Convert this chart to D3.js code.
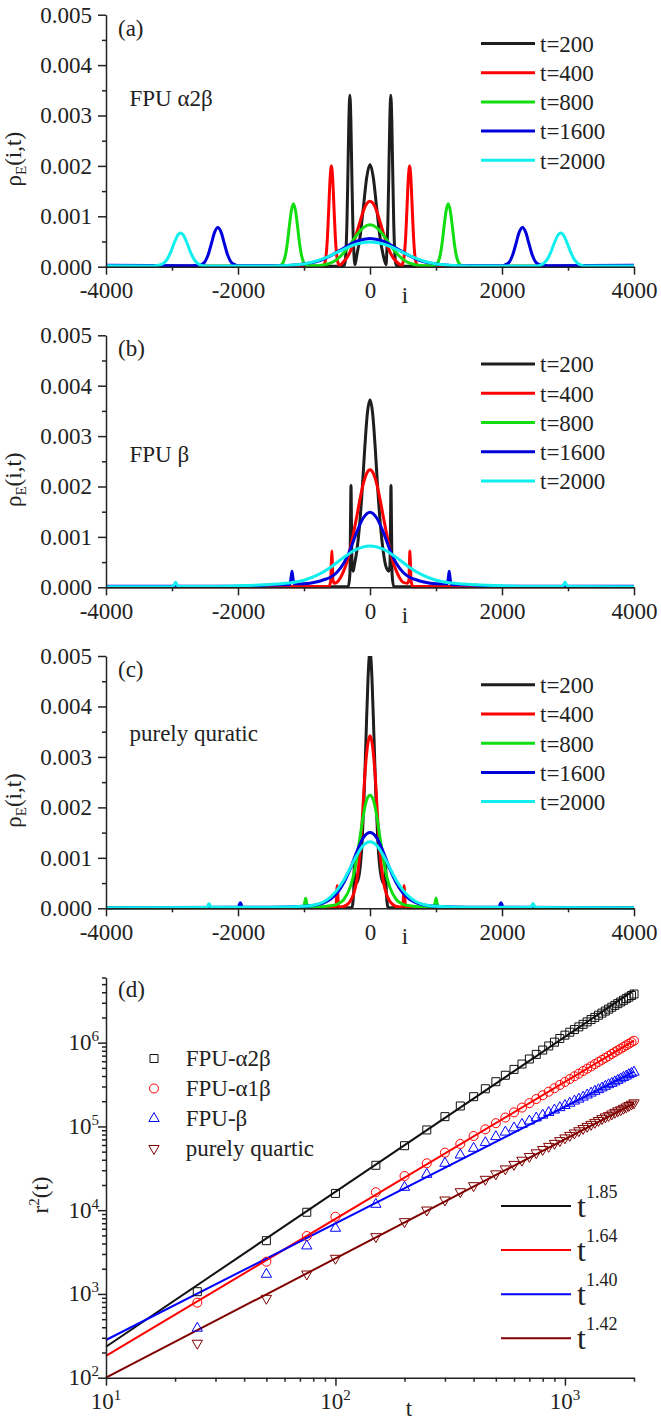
<!DOCTYPE html>
<html>
<head>
<meta charset="utf-8">
<script src="https://cdn.jsdelivr.net/npm/d3@7"></script>
<style>
  body { margin: 0; background: #fff; }
  svg text { font-family: "Liberation Serif", "Times New Roman", serif; fill: #222; }
</style>
</head>
<body>
<svg id="fig" width="661" height="1424"></svg>
<script>
// ---------- data: panels (a)-(c), energy profiles rho_E(i,t), values in units of 1e-3 ----------
const profileTicksX = [-4000, -2000, 0, 2000, 4000];
const profileMinorX = [-3000, -1000, 1000, 3000];
const profileTicksY = [0, 0.001, 0.002, 0.003, 0.004, 0.005];
const profileMinorY = [0.0005, 0.0015, 0.0025, 0.0035, 0.0045];
const timeLabels = ["t=200", "t=400", "t=800", "t=1600", "t=2000"];

// (a) FPU alpha2beta
const profA200 = [[-4000,0.01],[-460,0.01],[-395,0.02],[-380,0.07],[-365,0.29],[-350,0.85],[-335,1.83],[-320,2.91],[-305,3.4],[-290,2.91],[-275,1.83],[-260,0.85],[-245,0.3],[-228,0.04],[-200,0.23],[-150,0.6],[-100,1.18],[-50,1.77],[0,2.03],[50,1.77],[100,1.18],[150,0.6],[200,0.23],[243,0.04],[255,0.3],[270,0.85],[285,1.83],[300,2.91],[315,3.4],[330,2.91],[345,1.83],[360,0.85],[375,0.29],[390,0.07],[405,0.02],[470,0.01],[4000,0.01]];
const profA400 = [[-4000,0.01],[-720,0.01],[-705,0.03],[-685,0.07],[-665,0.22],[-645,0.58],[-625,1.15],[-605,1.74],[-585,2.0],[-565,1.74],[-545,1.15],[-525,0.58],[-505,0.24],[-485,0.08],[-460,0.03],[-400,0.1],[-350,0.18],[-300,0.3],[-250,0.47],[-200,0.68],[-150,0.9],[-100,1.11],[-50,1.25],[0,1.3],[50,1.25],[100,1.11],[150,0.9],[200,0.68],[250,0.47],[300,0.3],[350,0.18],[400,0.1],[480,0.03],[500,0.08],[520,0.24],[540,0.58],[560,1.15],[580,1.74],[600,2.0],[620,1.74],[640,1.15],[660,0.58],[680,0.22],[700,0.07],[720,0.03],[735,0.01],[4000,0.01]];
const profA800 = [[-4000,0.01],[-1400,0.01],[-1370,0.025],[-1340,0.04],[-1310,0.1],[-1280,0.24],[-1250,0.49],[-1220,0.83],[-1190,1.12],[-1160,1.25],[-1130,1.12],[-1100,0.83],[-1070,0.49],[-1040,0.24],[-1010,0.1],[-980,0.04],[-940,0.02],[-800,0.02],[-700,0.035],[-600,0.07],[-500,0.145],[-400,0.27],[-300,0.44],[-200,0.63],[-100,0.775],[0,0.83],[100,0.775],[200,0.63],[300,0.44],[400,0.27],[500,0.145],[600,0.07],[700,0.035],[800,0.02],[965,0.02],[1005,0.04],[1035,0.1],[1065,0.24],[1095,0.49],[1125,0.83],[1155,1.12],[1185,1.25],[1215,1.12],[1245,0.83],[1275,0.49],[1305,0.24],[1335,0.1],[1365,0.04],[1395,0.025],[1430,0.01],[4000,0.01]];
const profA1600 = [[-4000,0.03],[-2700,0.02],[-2605,0.03],[-2555,0.045],[-2505,0.09],[-2455,0.225],[-2405,0.45],[-2355,0.68],[-2305,0.78],[-2255,0.68],[-2205,0.45],[-2155,0.225],[-2105,0.09],[-2055,0.045],[-2005,0.02],[-1300,0.02],[-1100,0.04],[-1000,0.055],[-800,0.105],[-600,0.215],[-400,0.365],[-200,0.505],[0,0.56],[200,0.505],[400,0.365],[600,0.215],[800,0.105],[1000,0.055],[1100,0.04],[1300,0.02],[2010,0.02],[2060,0.045],[2110,0.09],[2160,0.225],[2210,0.45],[2260,0.68],[2310,0.78],[2360,0.68],[2410,0.45],[2460,0.225],[2510,0.09],[2560,0.045],[2610,0.03],[2700,0.02],[4000,0.03]];
const profA2000 = [[-4000,0.02],[-3300,0.015],[-3220,0.025],[-3170,0.04],[-3120,0.075],[-3070,0.155],[-3020,0.29],[-2970,0.46],[-2920,0.61],[-2870,0.67],[-2820,0.61],[-2770,0.46],[-2720,0.29],[-2670,0.155],[-2620,0.075],[-2570,0.035],[-2500,0.015],[-1500,0.015],[-1200,0.03],[-1000,0.055],[-800,0.117],[-600,0.22],[-400,0.345],[-200,0.45],[0,0.49],[200,0.45],[400,0.345],[600,0.22],[800,0.117],[1000,0.055],[1200,0.03],[1500,0.015],[2520,0.015],[2590,0.035],[2640,0.075],[2690,0.155],[2740,0.29],[2790,0.46],[2840,0.61],[2890,0.67],[2940,0.61],[2990,0.46],[3040,0.29],[3090,0.155],[3140,0.075],[3190,0.035],[3260,0.015],[4000,0.015]];

// (b) FPU beta
const profB200 = [[-4000,0.01],[-330,0.01],[-305,0.25],[-296,1.2],[-288,2.02],[-280,1.2],[-272,0.42],[-255,0.32],[-240,0.42],[-200,0.72],[-160,1.2],[-120,1.9],[-80,2.75],[-40,3.45],[0,3.72],[40,3.45],[80,2.75],[120,1.9],[160,1.2],[200,0.72],[240,0.42],[285,0.32],[302,0.42],[310,1.2],[318,2.02],[326,1.2],[335,0.25],[360,0.01],[4000,0.01]];
const profB400 = [[-4000,0.01],[-625,0.01],[-596,0.12],[-585,0.5],[-578,0.72],[-571,0.5],[-562,0.15],[-540,0.08],[-500,0.1],[-450,0.185],[-400,0.32],[-350,0.5],[-300,0.76],[-250,1.07],[-200,1.41],[-150,1.76],[-100,2.06],[-50,2.26],[0,2.33],[50,2.26],[100,2.06],[150,1.76],[200,1.41],[250,1.07],[300,0.76],[350,0.5],[400,0.32],[450,0.185],[500,0.1],[565,0.08],[590,0.15],[598,0.5],[605,0.72],[612,0.5],[623,0.12],[650,0.01],[4000,0.01]];
const profB800 = [];
const profB1600 = [[-4000,0.02],[-2000,0.02],[-1600,0.04],[-1300,0.05],[-1215,0.05],[-1195,0.2],[-1182,0.32],[-1169,0.2],[-1150,0.07],[-1000,0.07],[-800,0.11],[-700,0.15],[-600,0.2],[-500,0.3],[-400,0.47],[-300,0.75],[-200,1.1],[-100,1.38],[0,1.49],[100,1.38],[200,1.1],[300,0.75],[400,0.47],[500,0.3],[600,0.2],[700,0.15],[800,0.11],[1000,0.07],[1170,0.07],[1188,0.2],[1200,0.32],[1212,0.2],[1232,0.05],[1300,0.05],[1600,0.04],[2000,0.02],[4000,0.02]];
const profB2000 = [[-4000,0.01],[-3100,0.01],[-2990,0.015],[-2962,0.06],[-2945,0.1],[-2928,0.06],[-2900,0.015],[-2500,0.015],[-2000,0.03],[-1600,0.05],[-1400,0.065],[-1200,0.09],[-1000,0.14],[-800,0.24],[-600,0.395],[-400,0.59],[-200,0.755],[0,0.82],[200,0.755],[400,0.59],[600,0.395],[800,0.24],[1000,0.14],[1200,0.09],[1400,0.065],[1600,0.05],[2000,0.03],[2500,0.015],[2915,0.015],[2938,0.06],[2955,0.1],[2972,0.06],[3000,0.015],[4000,0.01]];

// (c) purely quartic
const profC200 = [[-4000,0.01],[-275,0.01],[-248,0.3],[-236,0.9],[-226,0.6],[-205,0.5],[-160,0.7],[-120,1.3],[-90,2.2],[-60,3.4],[-30,4.55],[0,5.1],[30,4.55],[60,3.4],[90,2.2],[120,1.3],[160,0.7],[205,0.5],[226,0.6],[236,0.9],[248,0.3],[275,0.01],[4000,0.01]];
const profC400 = [[-4000,0.01],[-530,0.01],[-515,0.04],[-505,0.3],[-497,0.45],[-489,0.3],[-478,0.04],[-440,0.025],[-400,0.035],[-350,0.07],[-300,0.14],[-250,0.28],[-200,0.55],[-160,1.0],[-120,1.7],[-80,2.6],[-40,3.2],[0,3.42],[40,3.2],[80,2.6],[120,1.7],[160,1.0],[200,0.55],[250,0.28],[300,0.14],[350,0.07],[400,0.035],[450,0.025],[498,0.04],[509,0.3],[517,0.45],[525,0.3],[536,0.04],[550,0.01],[4000,0.01]];
const profC800 = [[-4000,0.01],[-1010,0.015],[-988,0.12],[-975,0.2],[-962,0.12],[-940,0.02],[-900,0.02],[-700,0.035],[-600,0.05],[-500,0.08],[-400,0.17],[-300,0.42],[-250,0.65],[-200,1.0],[-150,1.42],[-100,1.85],[-50,2.15],[0,2.24],[50,2.15],[100,1.85],[150,1.42],[200,1.0],[250,0.65],[300,0.42],[400,0.17],[500,0.08],[600,0.05],[700,0.035],[900,0.02],[965,0.02],[988,0.12],[1001,0.2],[1014,0.12],[1036,0.015],[4000,0.01]];
const profC1600 = [[-4000,0.01],[-2100,0.02],[-1995,0.02],[-1978,0.08],[-1965,0.11],[-1952,0.08],[-1935,0.02],[-1500,0.02],[-1000,0.04],[-800,0.07],[-700,0.11],[-600,0.18],[-500,0.3],[-400,0.5],[-300,0.78],[-200,1.12],[-100,1.4],[0,1.5],[100,1.4],[200,1.12],[300,0.78],[400,0.5],[500,0.3],[600,0.18],[700,0.11],[800,0.07],[1000,0.04],[1500,0.02],[1955,0.02],[1972,0.08],[1985,0.11],[1998,0.08],[2015,0.02],[2100,0.02],[4000,0.01]];
const profC2000 = [[-4000,0.01],[-2500,0.015],[-2465,0.02],[-2452,0.07],[-2440,0.09],[-2428,0.07],[-2410,0.02],[-1500,0.02],[-1000,0.04],[-800,0.08],[-700,0.13],[-600,0.22],[-500,0.36],[-400,0.55],[-300,0.8],[-200,1.05],[-100,1.25],[0,1.32],[100,1.25],[200,1.05],[300,0.8],[400,0.55],[500,0.36],[600,0.22],[700,0.13],[800,0.08],[1000,0.04],[1500,0.02],[2440,0.02],[2458,0.07],[2470,0.09],[2482,0.07],[2500,0.02],[2550,0.015],[4000,0.01]];

// ---------- data: panel (d), mean square displacement r^2(t) ----------
const tVals = [25,50,75,100,150,200,250,300,350,400,450,500,550,600,650,700,750,800,850,900,950,1000,1050,1100,1150,1200,1250,1300,1350,1400,1450,1500,1550,1600,1650,1700,1750,1800,1850,1900,1950,2000];
const r2Alpha2Beta = [1064,4325,9441,15850,34360,58880,90780,130900,175400,226500,281800,342000,408300,479700,555900,638300,724400,816600,914100,1014000,1122000,1230000,1334000,1435000,1545000,1656000,1770000,1888000,2004000,2128000,2254000,2382000,2512000,2649000,2786000,2924000,3062000,3206000,3357000,3499000,3656000,3811000];
const r2Alpha1Beta = [787,2427,4920,8350,16370,25600,36300,48600,61700,76900,92400,109400,127600,147200,167900,189700,212300,235500,260000,285800,312600,339600,368100,397200,426600,458100,489800,521200,554600,588800,623700,659200,695000,732800,770900,809100,849200,889200,929000,970600,1012000,1054000];
const r2Beta = [390,1717,3740,6080,11750,18750,26800,36300,45600,54800,64000,75500,85500,95900,105900,116100,126200,136500,146900,157000,167500,177800,189200,200900,211800,223900,237100,250000,262400,274800,287700,301300,314800,326600,340400,354800,369800,384600,399000,415000,429500,444600];
const r2Quartic = [258,887,1730,2667,4830,7300,10050,13240,16630,19630,23390,27160,31120,35240,39540,43850,48420,53090,57810,62810,67760,72950,78160,83560,88920,94620,100200,105900,111900,117800,123900,130000,134600,140900,147200,153500,158100,164800,171000,177800,184500,191400];
const fitT = [10, 2000];
const fitAlpha2Beta = [234, 4230000];
const fitAlpha1Beta = [182, 1060000];
const fitBeta = [282, 450000];
const fitQuartic = [100, 189000];
const modelNames = ["FPU-α2β", "FPU-α1β", "FPU-β", "purely quartic"];
const fitExponents = ["1.85", "1.64", "1.40", "1.42"];
const decadeTicksX = [10, 100, 1000];
const decadeTicksY = [100, 1000, 10000, 100000, 1000000];

// ---------- drawing ----------
const svg = d3.select("#fig");
const axisColor = "#222";
const profileColors = ["#1e1e1e", "#ff0000", "#11dd11", "#0000dd", "#11eeee"];
const msdColors = ["#111", "#ff0000", "#0000ff", "#800000"];
const X0 = 106, X1 = 634;

function styleAxis(g) {
  g.attr("font-family", '"Liberation Serif", "Times New Roman", serif').attr("font-size", 23);
  g.select(".domain").attr("stroke", axisColor).attr("stroke-width", 1.5);
  g.selectAll(".tick line").attr("stroke", axisColor).attr("stroke-width", 1.5);
  g.selectAll(".tick text").attr("fill", axisColor);
}

const profilePanels = [
  { tag: "(a)", model: "FPU α2β", top: 14.7, bottom: 266.7, modelY: 105.5,
    series: [profA200, profA400, profA800, profA1600, profA2000] },
  { tag: "(b)", model: "FPU β", top: 335.3, bottom: 587.3, modelY: 461.5,
    series: [profB200, profB400, profB800, profB1600, profB2000] },
  { tag: "(c)", model: "purely quratic", top: 656, bottom: 908.3, modelY: 740.5,
    series: [profC200, profC400, profC800, profC1600, profC2000] }
];

profilePanels.forEach((p, idx) => {
  const x = d3.scaleLinear().domain([-4000, 4000]).range([X0, X1]);
  const y = d3.scaleLinear().domain([0, 0.005]).range([p.bottom, p.top]);

  const clipId = "clip" + idx;
  svg.append("clipPath").attr("id", clipId).append("rect")
    .attr("x", X0).attr("y", p.top).attr("width", X1 - X0).attr("height", p.bottom - p.top + 2);

  const line = d3.line()
    .x(d => x(d[0]))
    .y(d => y(d[1] * 1e-3))
    .curve(d3.curveMonotoneX);

  const lines = svg.append("g").attr("clip-path", `url(#${clipId})`);
  p.series.forEach((s, k) => {
    if (!s.length) return;
    lines.append("path").datum(s)
      .attr("d", line)
      .attr("fill", "none")
      .attr("stroke", profileColors[k])
      .attr("stroke-width", 3)
      .attr("stroke-linejoin", "round");
  });

  // axes
  const gx = svg.append("g").attr("transform", `translate(0,${p.bottom})`)
    .call(d3.axisBottom(x).tickValues(profileTicksX).tickSize(8).tickSizeOuter(0)
      .tickPadding(7).tickFormat(d => String(d)));
  styleAxis(gx);
  const gxm = svg.append("g").attr("transform", `translate(0,${p.bottom})`)
    .call(d3.axisBottom(x).tickValues(profileMinorX).tickSize(4).tickFormat(""));
  styleAxis(gxm);
  gxm.select(".domain").remove();

  const gy = svg.append("g").attr("transform", `translate(${X0},0)`)
    .call(d3.axisLeft(y).tickValues(profileTicksY).tickSize(8).tickSizeOuter(0)
      .tickPadding(6).tickFormat(d3.format(".3f")));
  styleAxis(gy);
  const gym = svg.append("g").attr("transform", `translate(${X0},0)`)
    .call(d3.axisLeft(y).tickValues(profileMinorY).tickSize(4).tickFormat(""));
  styleAxis(gym);
  gym.select(".domain").remove();

  // labels
  svg.append("text").attr("x", 118).attr("y", p.top + 21).attr("font-size", 23).text(p.tag);
  svg.append("text").attr("x", 129.5).attr("y", p.modelY).attr("font-size", 23).text(p.model);
  svg.append("text").attr("x", 405).attr("y", p.bottom + 36).attr("font-size", 23)
    .attr("text-anchor", "middle").text("i");

  const yl = svg.append("text")
    .attr("transform", `translate(21,${p.top + 144.5}) rotate(-90)`)
    .attr("text-anchor", "middle").attr("font-size", 23);
  yl.append("tspan").text("ρ");
  yl.append("tspan").attr("font-size", 15).attr("dy", 5).text("E");
  yl.append("tspan").attr("dy", -5).text("(i,t)");

  // legend
  timeLabels.forEach((lab, k) => {
    const ly = p.top + 28.8 + k * 29.2;
    svg.append("line").attr("x1", 481).attr("x2", 535).attr("y1", ly).attr("y2", ly)
      .attr("stroke", profileColors[k]).attr("stroke-width", 3);
    svg.append("text").attr("x", 540).attr("y", ly + 8.3).attr("font-size", 23).text(lab);
  });
});

// ---------- panel (d) ----------
const dTop = 977.5, dBottom = 1377.7;
const xd = d3.scaleLog().domain([10, 2000]).range([X0, X1]);
const yd = d3.scaleLog().domain([100, 6e6]).range([dBottom, dTop]);

const msdSeries = [r2Alpha2Beta, r2Alpha1Beta, r2Beta, r2Quartic];
const fitSeries = [fitAlpha2Beta, fitAlpha1Beta, fitBeta, fitQuartic];
const symbolTypes = [d3.symbolSquare, d3.symbolCircle, d3.symbolTriangle, d3.symbolTriangle];
const symbolSizes = [64, 64, 46, 46];
const symbolRot = [0, 0, 0, 180];

const fitLine = d3.line().x(d => xd(d[0])).y(d => yd(d[1]));
fitSeries.forEach((f, k) => {
  svg.append("path").datum(fitT.map((t, i) => [t, f[i]]))
    .attr("d", fitLine).attr("fill", "none")
    .attr("stroke", msdColors[k]).attr("stroke-width", 2);
});

msdSeries.forEach((s, k) => {
  svg.append("g").selectAll("path")
    .data(tVals.map((t, i) => [t, s[i]]))
    .join("path")
    .attr("transform", d => `translate(${xd(d[0])},${yd(d[1])}) rotate(${symbolRot[k]})`)
    .attr("d", d3.symbol(symbolTypes[k], symbolSizes[k]))
    .attr("fill", "none")
    .attr("stroke", msdColors[k])
    .attr("stroke-width", 1);
});

// axes (d)
const allMinor = (lo, hi) => {
  const out = [];
  for (let dec = lo; dec < hi; dec *= 10) for (let m = 2; m <= 9; m++) out.push(m * dec);
  return out;
};
const minorX = allMinor(10, 1000).concat([2000]);
const minorY = allMinor(100, 1e6).concat([2e6, 3e6, 4e6, 5e6, 6e6]);

const gdx = svg.append("g").attr("transform", `translate(0,${dBottom})`)
  .call(d3.axisBottom(xd).tickValues(decadeTicksX).tickSize(8).tickSizeOuter(0).tickFormat(""));
styleAxis(gdx);
const gdxm = svg.append("g").attr("transform", `translate(0,${dBottom})`)
  .call(d3.axisBottom(xd).tickValues(minorX).tickSize(4).tickFormat(""));
styleAxis(gdxm);
gdxm.select(".domain").remove();

const gdy = svg.append("g").attr("transform", `translate(${X0},0)`)
  .call(d3.axisLeft(yd).tickValues(decadeTicksY).tickSize(8).tickSizeOuter(0).tickFormat(""));
styleAxis(gdy);
const gdym = svg.append("g").attr("transform", `translate(${X0},0)`)
  .call(d3.axisLeft(yd).tickValues(minorY).tickSize(4).tickFormat(""));
styleAxis(gdym);
gdym.select(".domain").remove();

decadeTicksX.forEach(v => {
  const t = svg.append("text").attr("x", xd(v)).attr("y", dBottom + 31)
    .attr("text-anchor", "middle").attr("font-size", 23);
  t.append("tspan").text("10");
  t.append("tspan").attr("font-size", 15).attr("dy", -9).text(Math.round(Math.log10(v)));
});
decadeTicksY.forEach(v => {
  const t = svg.append("text").attr("x", 99).attr("y", yd(v) + 7.5)
    .attr("text-anchor", "end").attr("font-size", 23);
  t.append("tspan").text("10");
  t.append("tspan").attr("font-size", 15).attr("dy", -9).text(Math.round(Math.log10(v)));
});

svg.append("text").attr("x", 118).attr("y", dTop + 19).attr("font-size", 23).text("(d)");
svg.append("text").attr("x", 409).attr("y", 1416).attr("font-size", 23)
  .attr("text-anchor", "middle").text("t");
const ryl = svg.append("text")
  .attr("transform", `translate(48,1195) rotate(-90)`)
  .attr("text-anchor", "middle").attr("font-size", 23);
ryl.append("tspan").text("r");
ryl.append("tspan").attr("font-size", 15).attr("dy", -9).text("2");
ryl.append("tspan").attr("dy", 9).text("(t)");

// symbol legend
modelNames.forEach((name, k) => {
  const ly = 1058.5 + k * 30;
  svg.append("path")
    .attr("transform", `translate(154,${ly}) rotate(${symbolRot[k]})`)
    .attr("d", d3.symbol(symbolTypes[k], symbolSizes[k]))
    .attr("fill", "none").attr("stroke", msdColors[k]).attr("stroke-width", 1);
  svg.append("text").attr("x", 185.7).attr("y", ly + 7.5).attr("font-size", 23).text(name);
});

// fit legend
fitExponents.forEach((ex, k) => {
  const ly = 1206 + k * 44.1;
  svg.append("line").attr("x1", 501).attr("x2", 571).attr("y1", ly).attr("y2", ly)
    .attr("stroke", msdColors[k]).attr("stroke-width", 2);
  const t = svg.append("text").attr("x", 577).attr("y", ly + 10.7).attr("font-size", 32);
  t.append("tspan").text("t");
  t.append("tspan").attr("font-size", 18).attr("dy", -19).text(ex);
});
</script>
</body>
</html>
